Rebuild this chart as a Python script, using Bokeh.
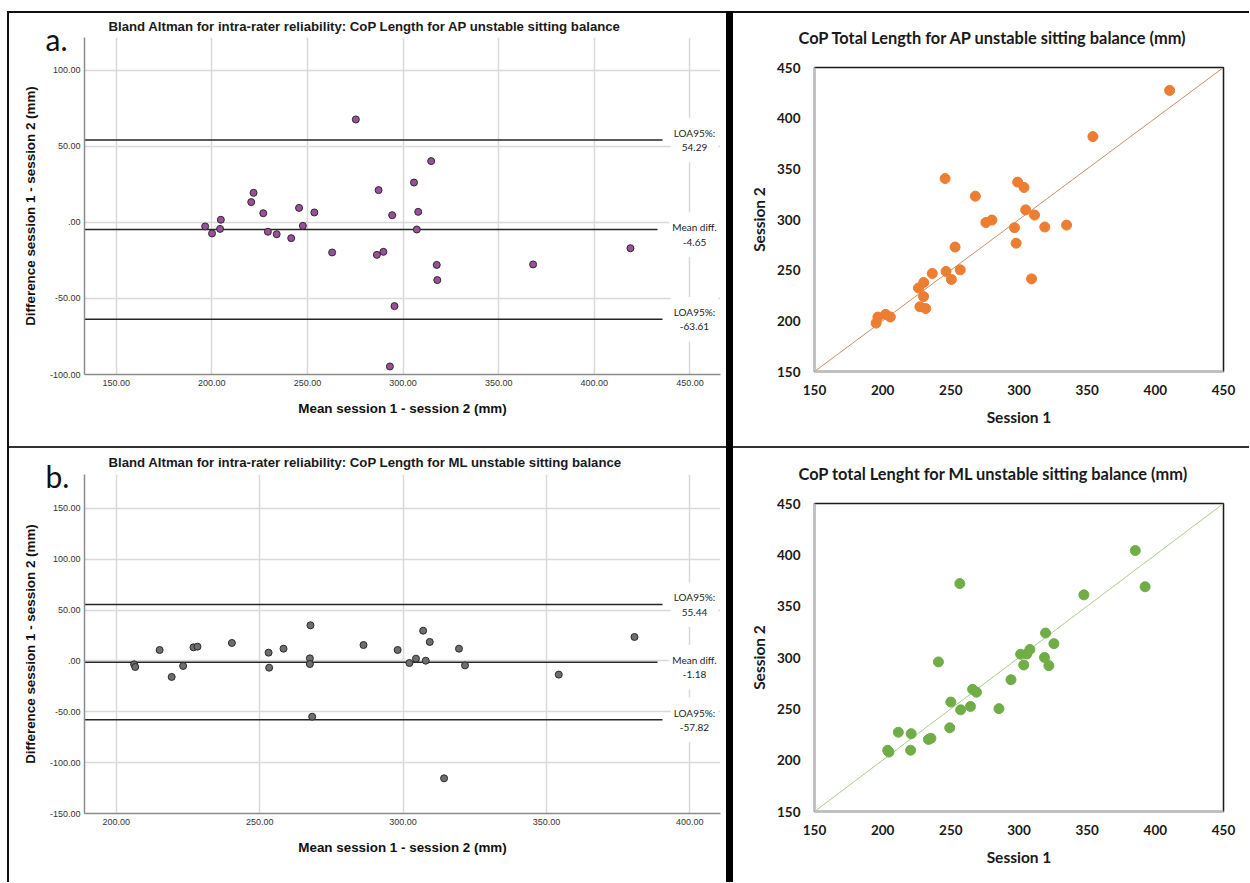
from bokeh.plotting import figure
from bokeh.models import FixedTicker, Label, Range1d, Spacer, Div, Title
from bokeh.layouts import row, column
from bokeh.embed import file_html
from bokeh.resources import INLINE

# ---------------- data ----------------
# Bland-Altman AP (panel a)
ap_mean = [196.5, 200.1, 204.3, 204.7, 220.6, 221.8, 226.9, 229.3, 233.9, 241.5,
           245.6, 247.6, 253.6, 262.9, 275.3, 286.3, 287.2, 289.7, 294.3, 293.1,
           295.5, 305.7, 307.2, 307.9, 314.7, 317.6, 317.9, 368.0, 418.9]
ap_diff = [-2.6, -7.2, -4.2, 1.8, 13.4, 19.5, 6.1, -6.1, -7.7, -10.3,
           9.6, -2.2, 6.6, -19.7, 67.8, -21.3, 21.3, -19.3, 4.8, -94.7,
           -55.0, 26.3, -4.6, 7.0, 40.4, -27.9, -37.9, -27.6, -16.9]
ap_mean_diff = -4.65
ap_loa_upper = 54.29
ap_loa_lower = -63.61

# Bland-Altman ML (panel b)
ml_mean = [206.2, 206.6, 215.1, 219.3, 223.3, 226.9, 228.3, 240.3, 253.1, 253.3,
           258.3, 267.7, 267.5, 267.5, 268.3, 286.2, 298.1, 302.2, 304.5, 307.0,
           307.9, 309.3, 314.3, 319.5, 321.6, 354.3, 380.7]
ml_diff = [-3.3, -5.9, 10.8, -15.7, -4.9, 13.4, 14.1, 17.7, 8.2, -6.6,
           12.1, 35.1, 2.6, -3.0, -54.8, 15.7, 10.8, -2.0, 2.3, 29.8,
           0.3, 18.7, -115.4, 12.1, -4.3, -13.4, 23.6]
ml_mean_diff = -1.18
ml_loa_upper = 55.44
ml_loa_lower = -57.82

# Session scatter AP
ap_s1 = [195.2, 196.5, 202.2, 205.6, 227.3, 231.6, 230.0, 226.3, 230.1, 236.4,
         250.4, 246.5, 256.9, 253.1, 309.2, 275.7, 297.9, 280.1, 296.7, 245.8,
         268.0, 318.9, 304.9, 311.4, 334.9, 303.7, 299.0, 354.2, 410.5]
ap_s2 = [197.8, 203.7, 206.4, 203.8, 213.9, 212.1, 223.9, 232.4, 237.8, 246.7,
         240.8, 248.7, 250.3, 272.8, 241.4, 297.0, 276.6, 299.4, 291.9, 340.4,
         323.0, 292.6, 309.5, 304.4, 294.5, 331.6, 336.9, 381.8, 427.4]

# Session scatter ML
ml_s1 = [204.6, 203.7, 220.5, 211.5, 220.9, 233.6, 235.4, 249.2, 257.2, 250.0,
         264.4, 285.3, 268.8, 266.0, 240.9, 294.1, 303.5, 301.2, 305.7, 321.9,
         308.0, 318.7, 256.6, 325.6, 319.5, 347.6, 392.5, 385.3]
ml_s2 = [207.9, 209.6, 209.7, 227.2, 225.8, 220.2, 221.3, 231.5, 249.0, 256.6,
         252.3, 250.2, 266.2, 269.0, 295.7, 278.4, 292.7, 303.2, 303.4, 292.1,
         307.8, 300.0, 372.0, 313.5, 323.8, 361.0, 368.9, 404.2]

identity = [150, 450]

ba_a_xticks = [150, 200, 250, 300, 350, 400, 450]
ba_a_xlabels = ["150.00", "200.00", "250.00", "300.00", "350.00", "400.00", "450.00"]
ba_a_yticks = [-100, -50, 0, 50, 100]
ba_a_ylabels = ["-100.00", "-50.00", ".00", "50.00", "100.00"]

ba_b_xticks = [200, 250, 300, 350, 400]
ba_b_xlabels = ["200.00", "250.00", "300.00", "350.00", "400.00"]
ba_b_yticks = [-150, -100, -50, 0, 50, 100, 150]
ba_b_ylabels = ["-150.00", "-100.00", "-50.00", ".00", "50.00", "100.00", "150.00"]

sc_ticks = [150, 200, 250, 300, 350, 400, 450]
sc_labels = ["150", "200", "250", "300", "350", "400", "450"]

ARIAL = "Liberation Sans"
CAL = "Lato"


def bar(w, h, color):
    return Div(text="", width=w, height=h, margin=0,
               styles={"background-color": color, "padding": "0px", "margin": "0px"})


def ba_fig(w, h, xr, yr, borders, xticks, xlabels, yticks, ylabels,
           mx, dy, mean_d, up, lo, fill, title, letter, title_standoff, letter_standoff):
    l, r, t, b = borders
    p = figure(width=w, height=h, x_range=Range1d(*xr), y_range=Range1d(*yr),
               toolbar_location=None, output_backend="svg",
               min_border_left=l, min_border_right=r, min_border_top=t, min_border_bottom=b)
    p.background_fill_color = "white"
    p.border_fill_color = "white"
    p.outline_line_color = None
    p.xaxis.ticker = FixedTicker(ticks=xticks)
    p.yaxis.ticker = FixedTicker(ticks=yticks)
    p.xaxis.major_label_overrides = dict(zip(xticks, xlabels))
    p.yaxis.major_label_overrides = dict(zip(yticks, ylabels))
    for ax in (p.xaxis, p.yaxis):
        ax.major_tick_line_color = None
        ax.minor_tick_line_color = None
        ax.major_tick_out = 0
        ax.major_tick_in = 0
        ax.axis_line_color = "#8c8c8c"
        ax.axis_line_width = 1.5
        ax.major_label_text_font = ARIAL
        ax.major_label_text_font_size = "9px"
        ax.major_label_text_color = "#333333"
        ax.axis_label_text_font = ARIAL
        ax.axis_label_text_font_style = "bold"
        ax.axis_label_text_font_size = "13.4px"
        ax.axis_label_text_color = "#111111"
    p.xaxis.major_label_standoff = 5
    p.yaxis.major_label_standoff = 4
    p.xaxis.axis_label = "Mean session 1 - session 2 (mm)"
    p.yaxis.axis_label = "Difference session 1 - session 2 (mm)"
    p.xaxis.axis_label_standoff = 12
    p.yaxis.axis_label_standoff = 9
    p.xgrid.ticker = FixedTicker(ticks=xticks)
    p.ygrid.ticker = FixedTicker(ticks=yticks)
    p.grid.grid_line_color = "#d9d9d9"
    p.grid.grid_line_width = 1.5

    px_per_unit = (w - l - r) / (xr[1] - xr[0])
    loa_end = xr[1] - 58 / px_per_unit     # reference lines stop short of their labels
    mean_end = xr[1] - 63 / px_per_unit
    p.segment(x0=[xr[0]] * 3, y0=[up, mean_d, lo], x1=[loa_end, mean_end, loa_end],
              y1=[up, mean_d, lo], line_color="#262626", line_width=1.5)

    p.scatter(mx, dy, size=7, fill_color=fill, line_color="#2b2b2b", line_width=1)

    lab_x = xr[1] - 26 / px_per_unit
    for v, txt in ((up, "LOA95%%:\n%.2f" % up), (mean_d, "Mean diff.\n%.2f" % mean_d),
                   (lo, "LOA95%%:\n%.2f" % lo)):
        p.add_layout(Label(x=lab_x, y=v, text=txt, text_align="center", text_baseline="middle",
                           y_offset=-5 if txt.startswith("Mean") else 0,
                           text_font=CAL, text_font_size="10px", text_color="#222222",
                           background_fill_color="white", padding=(3, 9)))

    # panel letter (nearest the frame) and title (outermost) in the top panel
    p.add_layout(Title(text=letter, align="left", offset=-39, standoff=letter_standoff,
                       vertical_align="bottom", text_font=CAL, text_font_style="normal",
                       text_font_size="30px", text_color="#111111"), "above")
    p.title.text = title
    p.title.align = "left"
    p.title.offset = 24
    p.title.standoff = title_standoff
    p.title.vertical_align = "bottom"
    p.title.text_font = ARIAL
    p.title.text_font_style = "bold"
    p.title.text_font_size = "13.2px"
    p.title.text_color = "#1a1a1a"
    return p


def sc_fig(w, h, borders, s1, s2, color, line_color, title, title_standoff, pad_standoff):
    l, r, t, b = borders
    p = figure(width=w, height=h, x_range=Range1d(150, 450), y_range=Range1d(150, 450),
               toolbar_location=None, output_backend="svg",
               min_border_left=l, min_border_right=r, min_border_top=t, min_border_bottom=b)
    p.background_fill_color = "white"
    p.border_fill_color = "white"
    p.outline_line_color = "#1a1a1a"
    p.outline_line_width = 1.5
    p.grid.visible = False
    for ax in (p.xaxis, p.yaxis):
        ax.ticker = FixedTicker(ticks=sc_ticks)
        ax.major_label_overrides = dict(zip(sc_ticks, sc_labels))
        ax.major_tick_line_color = None
        ax.minor_tick_line_color = None
        ax.major_tick_out = 0
        ax.major_tick_in = 0
        ax.axis_line_color = "#bfbfbf"
        ax.axis_line_width = 2
        ax.major_label_text_font = CAL
        ax.major_label_text_font_style = "bold"
        ax.major_label_text_font_size = "13.5px"
        ax.major_label_text_color = "#1a1a1a"
        ax.axis_label_text_font = CAL
        ax.axis_label_text_font_style = "bold"
        ax.axis_label_text_font_size = "15.5px"
        ax.axis_label_text_color = "#1a1a1a"
    p.xaxis.axis_label = "Session 1"
    p.yaxis.axis_label = "Session 2"
    p.xaxis.major_label_standoff = 13
    p.yaxis.major_label_standoff = 14
    p.xaxis.axis_label_standoff = 10
    p.yaxis.axis_label_standoff = 6
    p.line(identity, identity, line_color=line_color, line_width=1)
    p.scatter(s1, s2, size=10, fill_color=color, line_color=color)
    # invisible spacer title next to the frame, then the real title above it
    p.add_layout(Title(text=" ", standoff=pad_standoff, text_font=CAL, text_font_style="bold",
                       text_font_size="16.4px"), "above")
    p.title.text = title
    p.title.align = "left"
    p.title.offset = -16
    p.title.standoff = title_standoff
    p.title.vertical_align = "bottom"
    p.title.text_font = CAL
    p.title.text_font_style = "bold"
    p.title.text_font_size = "16.4px"
    p.title.text_color = "#1a1a1a"
    return p


pa = ba_fig(717, 433, (133.4, 466.0), (-100, 121.7), (75, 6, 24, 72),
            ba_a_xticks, ba_a_xlabels, ba_a_yticks, ba_a_ylabels,
            ap_mean, ap_diff, ap_mean_diff, ap_loa_upper, ap_loa_lower, "#9b4f9b",
            "Bland Altman for intra-rater reliability: CoP Length for AP unstable sitting balance",
            "a.", 7.3, -38)
pb = ba_fig(717, 434, (188.9, 410.7), (-150, 183.4), (75, 6, 26, 69),
            ba_b_xticks, ba_b_xlabels, ba_b_yticks, ba_b_ylabels,
            ml_mean, ml_diff, ml_mean_diff, ml_loa_upper, ml_loa_lower, "#6e6e6e",
            "Bland Altman for intra-rater reliability: CoP Length for ML unstable sitting balance",
            "b.", 9.3, -38)
pc = sc_fig(516, 433, (81, 26, 54, 75), ap_s1, ap_s2, "#ED7D31", "#c98e66",
            "CoP Total Length for AP unstable sitting balance (mm)", 21.3, -10.7)
pd_ = sc_fig(516, 434, (81, 26, 55, 71), ml_s1, ml_s2, "#70AD47", "#a6cf8a",
             "CoP total Lenght for ML unstable sitting balance (mm)", 24.3, -12.7)

left_col = column(bar(717, 2, "#111111"), pa, bar(717, 2, "#333333"), pb, spacing=0)
right_col = column(bar(516, 2, "#111111"), pc, bar(516, 2, "#333333"), pd_, spacing=0)
main = row(Spacer(width=7, height=871), bar(2, 871, "#111111"), left_col,
           bar(7, 871, "#000000"), right_col, spacing=0)
layout = column(Spacer(width=1249, height=11), main, spacing=0)

open("out.html", "w").write(file_html(layout, INLINE))
